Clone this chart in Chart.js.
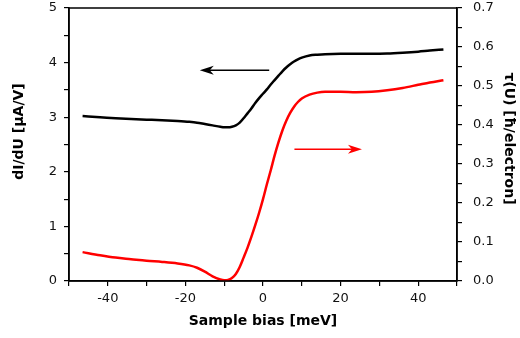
<!DOCTYPE html>
<html>
<head>
<meta charset="utf-8">
<script src="https://cdn.jsdelivr.net/npm/chart.js@4"></script>
<style>
  html, body { margin: 0; padding: 0; background: #fff; }
  #wrap { width: 520px; height: 338px; }
</style>
</head>
<body>
<div id="wrap"><canvas id="c" width="520" height="338"></canvas></div>
<script>
// bias axis (meV), shared by both curves
const biasMeV = [-46.5, -42, -38, -34, -30, -26, -22, -19, -17, -15, -13, -11, -10, -9, -8, -7, -6, -5, -4, -3, -2, -1,
                 0, 1, 2, 3, 4, 5, 6, 7, 8, 9, 10, 12, 14, 16, 20, 24, 28, 32, 36, 40, 43, 46.5];
// dI/dU [uA/V], left axis
const dIdU = [3.02, 3.00, 2.98, 2.965, 2.955, 2.945, 2.93, 2.915, 2.90, 2.875, 2.85, 2.825, 2.815, 2.815, 2.825, 2.85, 2.90, 2.98, 3.07, 3.16, 3.26, 3.35,
              3.43, 3.51, 3.60, 3.68, 3.76, 3.84, 3.91, 3.97, 4.02, 4.06, 4.09, 4.13, 4.145, 4.155, 4.16, 4.16, 4.16, 4.165, 4.18, 4.20, 4.22, 4.24];
// tau(U) [hbar/electron], right axis
const tau = [0.074, 0.066, 0.060, 0.056, 0.052, 0.049, 0.045, 0.040, 0.034, 0.024, 0.012, 0.004, 0.002, 0.003, 0.008, 0.018, 0.036, 0.060, 0.085, 0.113, 0.143, 0.175,
             0.210, 0.248, 0.284, 0.322, 0.356, 0.386, 0.411, 0.431, 0.447, 0.459, 0.468, 0.478, 0.483, 0.485, 0.485, 0.484, 0.485, 0.489, 0.495, 0.503, 0.509, 0.515];

// arrows pointing to each curve's axis, in data units
const arrows = [
  { from: [1.6, 3.86], to: [-16.3, 3.86], yAxis: 'y', color: '#000000' },
  { from: [8.1, 0.338], to: [25.5, 0.338], yAxis: 'y1', color: '#ff0000' },
];

const leftTitle = 'dI/dU [μA/V]';
const rightTitle = 'τ(U) [ħ/electron]';

const FONT = 'DejaVu Sans';
Chart.defaults.font.family = FONT;
Chart.defaults.color = '#111';

const tickGrid = { drawOnChartArea: false, drawTicks: true, tickLength: 5, color: '#000', lineWidth: 1.2 };
const noPad = s => { s.paddingTop = 0; s.paddingBottom = 0; s.paddingLeft = 0; s.paddingRight = 0; };

const framePlugin = {
  id: 'frame',
  afterDraw(chart) {
    const { ctx, chartArea: a } = chart;
    ctx.save();
    ctx.strokeStyle = '#000';
    ctx.lineWidth = 1.5;
    ctx.strokeRect(a.left, a.top, a.right - a.left, a.bottom - a.top);

    // arrows
    arrows.forEach(ar => {
      const xs = chart.scales.x, ys = chart.scales[ar.yAxis];
      const x0 = xs.getPixelForValue(ar.from[0]), y0 = ys.getPixelForValue(ar.from[1]);
      const x1 = xs.getPixelForValue(ar.to[0]), y1 = ys.getPixelForValue(ar.to[1]);
      const dir = Math.sign(x1 - x0);
      const L = 14, W = 4.5, N = 4;
      ctx.strokeStyle = ar.color; ctx.fillStyle = ar.color; ctx.lineWidth = 1.5;
      ctx.beginPath(); ctx.moveTo(x0, y0); ctx.lineTo(x1 - dir * N, y1); ctx.stroke();
      ctx.beginPath();
      ctx.moveTo(x1, y1);
      ctx.lineTo(x1 - dir * L, y1 - W);
      ctx.lineTo(x1 - dir * (L - N), y1);
      ctx.lineTo(x1 - dir * L, y1 + W);
      ctx.closePath(); ctx.fill();
    });

    // vertical axis titles (matplotlib puts them a bit above centre)
    const cy = (a.top + a.bottom) / 2;
    ctx.fillStyle = '#000';
    ctx.font = 'bold 14px "' + FONT + '"';
    ctx.textAlign = 'center';
    ctx.textBaseline = 'middle';
    ctx.save(); ctx.translate(a.left - 50, cy - 13); ctx.rotate(-Math.PI / 2);
    ctx.fillText(leftTitle, 0, 0); ctx.restore();
    ctx.save(); ctx.translate(a.right + 52, cy - 6); ctx.rotate(Math.PI / 2);
    ctx.fillText(rightTitle, 0, 0); ctx.restore();
    ctx.restore();
  }
};

new Chart(document.getElementById('c'), {
  type: 'line',
  data: {
    datasets: [
      { label: 'dI/dU', data: biasMeV.map((x, i) => ({ x, y: dIdU[i] })), yAxisID: 'y',
        borderColor: '#000000', borderWidth: 2.5, pointRadius: 0, cubicInterpolationMode: 'monotone' },
      { label: 'tau', data: biasMeV.map((x, i) => ({ x, y: tau[i] })), yAxisID: 'y1',
        borderColor: '#ff0000', borderWidth: 2.5, pointRadius: 0, cubicInterpolationMode: 'monotone' },
    ]
  },
  options: {
    responsive: false,
    animation: false,
    layout: { padding: { top: 8, left: 0, right: 0, bottom: 0 } },
    plugins: { legend: { display: false }, tooltip: { enabled: false } },
    scales: {
      x: {
        type: 'linear', min: -50, max: 50,
        grid: tickGrid,
        border: { color: '#000', width: 1.5 },
        ticks: { stepSize: 10, autoSkip: false, maxRotation: 0, padding: 5, font: { size: 13 },
                 callback: v => (v % 20 === 0 ? String(v) : '') },
        title: { display: true, text: 'Sample bias [meV]', font: { size: 14, weight: 'bold' },
                 padding: { top: 0, bottom: 8 }, color: '#000' },
        afterFit: s => { s.height = 57; noPad(s); },
      },
      y: {
        position: 'left', min: 0, max: 5,
        grid: tickGrid,
        border: { color: '#000', width: 1.5 },
        ticks: { stepSize: 0.5, autoSkip: false, padding: 7, font: { size: 13 },
                 callback: v => (Number.isInteger(v) ? String(v) : '') },
        afterFit: s => { s.width = 69; noPad(s); },
      },
      y1: {
        position: 'right', min: 0, max: 0.7,
        grid: tickGrid,
        border: { color: '#000', width: 1.5 },
        ticks: { stepSize: 0.05, autoSkip: false, padding: 11, font: { size: 13 },
                 callback: v => { const r = Math.round(v * 100); return r % 10 === 0 ? (r / 100).toFixed(1) : ''; } },
        afterFit: s => { s.width = 63; noPad(s); },
      },
    }
  },
  plugins: [framePlugin]
});
</script>
</body>
</html>
